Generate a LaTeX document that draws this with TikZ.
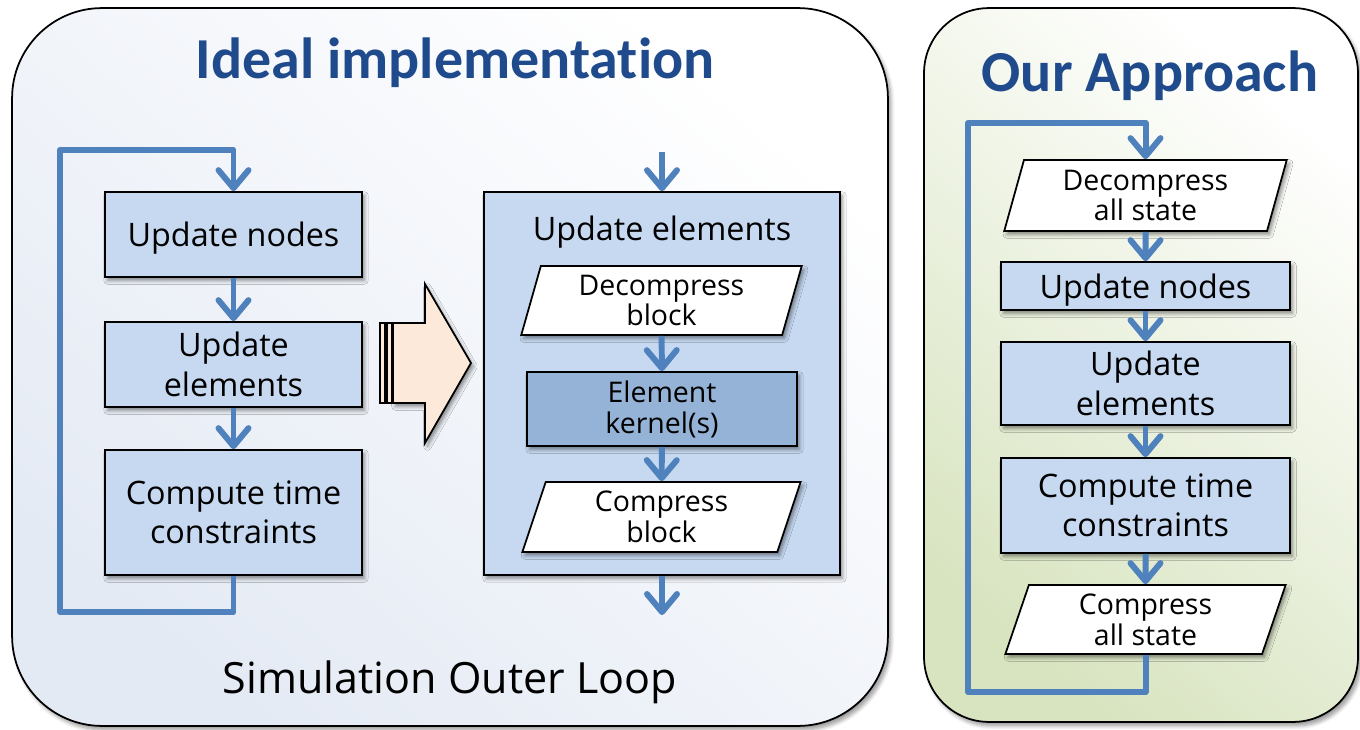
\documentclass[tikz,border=0pt]{standalone}
\usepackage{fontspec}
\setmainfont{Open Sans}
\newfontfamily\titlefont{Carlito}[Ligatures=NoCommon]
\usetikzlibrary{arrows.meta,shapes.geometric,shadows.blur}

\definecolor{boxblue}{HTML}{C6D9F1}
\definecolor{kernelblue}{HTML}{95B3D7}
\definecolor{flowblue}{HTML}{4F81BD}
\definecolor{titleblue}{HTML}{1F4A8C}
\definecolor{peach}{HTML}{FDE9D9}
\definecolor{panelblue}{HTML}{E4EAF4}
\definecolor{panelgreen}{HTML}{D8E4C0}

\tikzset{
  panel/.style={draw=black, line width=1pt, rectangle,
    blur shadow={shadow xshift=0.6mm, shadow yshift=-0.8mm, shadow blur steps=6, shadow opacity=40}},
  stepbox/.style={draw=black, line width=1pt, fill=boxblue, rectangle, inner sep=2pt,
    align=center, font=\fontsize{18.4}{22.5}\selectfont,
    blur shadow={shadow xshift=0.5mm, shadow yshift=-0.7mm, shadow blur steps=4, shadow opacity=45}},
  oneline/.style={text depth=0pt},
  iobox/.style={draw=black, line width=1pt, fill=white, trapezium,
    trapezium left angle=76, trapezium right angle=104, trapezium stretches=true,
    inner sep=1pt, align=center, font=\fontsize{16.2}{17.6}\selectfont,
    blur shadow={shadow xshift=0.5mm, shadow yshift=-0.7mm, shadow blur steps=4, shadow opacity=45}},
  flow/.style={draw=flowblue, line width=3.4pt,
    -{Straight Barb[length=3.6mm, width=6mm, round]}},
  loopline/.style={draw=flowblue, line width=3.4pt, line join=round,
    -{Straight Barb[length=3.6mm, width=6mm, round]}},
  titletext/.style={font=\titlefont\bfseries\fontsize{33}{36}\selectfont, text=titleblue},
}

\begin{document}
\begin{tikzpicture}[x=0.02cm, y=-0.02cm]
\useasboundingbox (0,0) rectangle (1360,730);

% ---- panels ----
\node[panel, rounded corners=1.8cm, minimum width=17.52cm, minimum height=14.36cm,
  shading=axis, top color=white, bottom color=panelblue, shading angle=-40]
  (ideal) at (450,367) {};
\node[panel, rounded corners=1.3cm, minimum width=8.68cm, minimum height=14.28cm,
  shading=axis, top color=white, bottom color=panelgreen, shading angle=-40]
  (ours) at (1141,365) {};

\node[titletext] (idealtitle) at (455,63) {Ideal implementation};
\node[titletext] (ourstitle) at (1150,76) {Our Approach};
\node[font=\fontsize{24.5}{28}\selectfont] (outer) at (450,682) {Simulation Outer Loop};

% ---- outer loop ----
\node[stepbox, oneline, minimum width=5.14cm, minimum height=1.7cm] (un) at (233.5,234.5) {Update nodes};
\node[stepbox, minimum width=5.14cm, minimum height=1.7cm] (ue) at (233.5,364.5) {Update\\elements};
\node[stepbox, minimum width=5.14cm, minimum height=2.5cm] (ct) at (233.5,512.5) {Compute time\\constraints};
\coordinate (la) at (60,612);
\coordinate (lb) at (60,150);
\draw[flow] (un) -- (ue);
\draw[flow] (ue) -- (ct);
\draw[loopline] (ct.south) |- (la) -- (lb) -| (un.north);

% ---- expansion arrow ----
\begin{scope}[line width=1pt]
\draw[fill=peach, blur shadow={shadow xshift=0.5mm, shadow yshift=-0.7mm, shadow blur steps=4, shadow opacity=45}]
  (393,323) -- (425,323) -- (425,284) -- (471,363) -- (425,443) -- (425,403) -- (393,403) -- cycle;
\draw[fill=peach] (380,323) rectangle (385,403);
\draw[fill=peach] (387,323) rectangle (392,403);
\end{scope}

% ---- element update detail ----
\node[stepbox, minimum width=7.12cm, minimum height=7.66cm] (bu) at (662,383.5) {};
\node[font=\fontsize{18.4}{22.5}\selectfont, text depth=0pt] (butitle) at (662,228) {Update elements};
\node[iobox, minimum width=5.62cm, minimum height=1.38cm] (db) at (661.5,300.5) {Decompress\\block};
\node[stepbox, fill=kernelblue, minimum width=5.4cm, minimum height=1.48cm,
  font=\fontsize{16.2}{17.6}\selectfont] (ek) at (662,409) {Element\\kernel(s)};
\node[iobox, minimum width=5.62cm, minimum height=1.4cm] (cb) at (661.5,517) {Compress\\block};
\coordinate (bin) at (662,152);
\coordinate (bout) at (662,615);
\draw[flow] (bin) -- (bu.north);
\draw[flow] (bu.south) -- (bout);
\draw[flow] (db) -- (ek);
\draw[flow] (ek) -- (cb);

% ---- our approach loop ----
\node[iobox, minimum width=5.66cm, minimum height=1.42cm] (das) at (1145.5,195.5) {Decompress\\all state};
\node[stepbox, oneline, minimum width=5.78cm, minimum height=0.96cm] (un2) at (1145.5,286) {Update nodes};
\node[stepbox, minimum width=5.78cm, minimum height=1.66cm] (ue2) at (1145.5,383.5) {Update\\elements};
\node[stepbox, minimum width=5.78cm, minimum height=1.9cm] (ct2) at (1145.5,505.5) {Compute time\\constraints};
\node[iobox, minimum width=5.66cm, minimum height=1.38cm] (cas) at (1145.5,619.5) {Compress\\all state};
\coordinate (ra) at (968,692);
\coordinate (rb) at (968,123);
\draw[flow] (das) -- (un2);
\draw[flow] (un2) -- (ue2);
\draw[flow] (ue2) -- (ct2);
\draw[flow] (ct2) -- (cas);
\draw[loopline] (cas.south) |- (ra) -- (rb) -| (das.north);
\end{tikzpicture}
\end{document}
